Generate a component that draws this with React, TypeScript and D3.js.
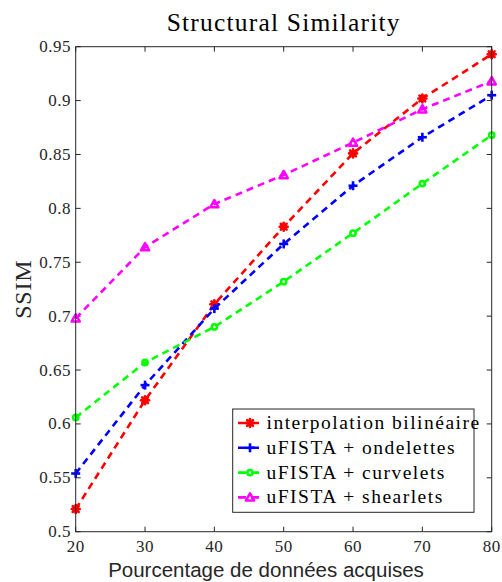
import React from "react";
import * as d3 from "d3";

const xValues = [20, 30, 40, 50, 60, 70, 80];
const interpolation = [0.521, 0.622, 0.711, 0.783, 0.851, 0.902, 0.943];
const ondelettes = [0.554, 0.636, 0.707, 0.767, 0.821, 0.866, 0.905];
const curvelets = [0.606, 0.657, 0.69, 0.732, 0.777, 0.823, 0.868];
const shearlets = [0.698, 0.764, 0.804, 0.831, 0.861, 0.892, 0.918];
const seriesNames = [
  "interpolation bilinéaire",
  "uFISTA + ondelettes",
  "uFISTA + curvelets",
  "uFISTA + shearlets",
];
const xTicks = [20, 30, 40, 50, 60, 70, 80];
const yTicks = [0.5, 0.55, 0.6, 0.65, 0.7, 0.75, 0.8, 0.85, 0.9, 0.95];

const W = 502;
const H = 582;
const L = 75.7, R = 491.7, T = 46.7, B = 531.7;
const AX = "#262626";
const SERIF = "'Liberation Serif', 'Times New Roman', serif";
const SANS = "'Liberation Sans', Arial, sans-serif";

type Kind = "star" | "plus" | "circle" | "tri";
const series: { name: string; values: number[]; color: string; kind: Kind }[] = [
  { name: seriesNames[0], values: interpolation, color: "#ff0000", kind: "star" },
  { name: seriesNames[1], values: ondelettes, color: "#0000ff", kind: "plus" },
  { name: seriesNames[2], values: curvelets, color: "#00ff00", kind: "circle" },
  { name: seriesNames[3], values: shearlets, color: "#ff00ff", kind: "tri" },
];

function Marker({ kind, x, y, color }: { kind: Kind; x: number; y: number; color: string }) {
  if (kind === "star") {
    const s = 4;
    const d = 2.9;
    return (
      <g stroke={color} strokeWidth={2.6} strokeLinecap="round">
        <circle cx={x} cy={y} r={3.6} fill={color} stroke="none" />
        <line x1={x - s} y1={y} x2={x + s} y2={y} />
        <line x1={x} y1={y - s} x2={x} y2={y + s} />
        <line x1={x - d} y1={y - d} x2={x + d} y2={y + d} />
        <line x1={x - d} y1={y + d} x2={x + d} y2={y - d} />
      </g>
    );
  }
  if (kind === "plus") {
    const s = 4.5;
    return (
      <g stroke={color} strokeWidth={2.6}>
        <line x1={x - s} y1={y} x2={x + s} y2={y} />
        <line x1={x} y1={y - s} x2={x} y2={y + s} />
      </g>
    );
  }
  if (kind === "circle") {
    return <circle cx={x} cy={y} r={2.6} fill="none" stroke={color} strokeWidth={2.6} />;
  }
  const h = 3.6;
  return (
    <path
      d={`M${x},${y - h - 0.4} L${x + 4.1},${y + h - 0.4} L${x - 4.1},${y + h - 0.4} Z`}
      fill="none"
      stroke={color}
      strokeWidth={2.5}
      strokeLinejoin="round"
    />
  );
}

export default function App() {
  const x = d3.scaleLinear().domain([20, 80]).range([L, R]);
  const y = d3.scaleLinear().domain([0.5, 0.95]).range([B, T]);
  const line = d3
    .line<number>()
    .x((_, i) => x(xValues[i]))
    .y((v) => y(v));

  const legX = 232.7, legY = 409, legW = 241.3, legH = 103.3;
  const rowY0 = 423, rowDy = 24.8;

  return (
    <svg width={W} height={H} style={{ position: "absolute", left: 0, top: 0, background: "#fff" }}>
      <rect x={0} y={0} width={W} height={H} fill="#fff" />
      {/* title */}
      <text
        x={(L + R) / 2}
        y={30.5}
        textAnchor="middle"
        fontFamily={SERIF}
        fontSize={25.5}
        letterSpacing={1.2}
        fill="#000"
      >
        Structural Similarity
      </text>
      {/* ticks */}
      {xTicks.map((t) => (
        <g key={"xt" + t} stroke={AX} strokeWidth={1}>
          <line x1={x(t)} y1={B} x2={x(t)} y2={B - 5} />
          <line x1={x(t)} y1={T} x2={x(t)} y2={T + 5} />
        </g>
      ))}
      {yTicks.map((t) => (
        <g key={"yt" + t} stroke={AX} strokeWidth={1}>
          <line x1={L} y1={y(t)} x2={L + 5} y2={y(t)} />
          <line x1={R} y1={y(t)} x2={R - 5} y2={y(t)} />
        </g>
      ))}
      {xTicks.map((t) => (
        <text
          key={"xl" + t}
          x={x(t)}
          y={552}
          textAnchor="middle"
          fontFamily={SERIF}
          fontSize={17}
          letterSpacing={0.5}
          fill={AX}
        >
          {t}
        </text>
      ))}
      {yTicks.map((t) => (
        <text
          key={"yl" + t}
          x={71}
          y={y(t) + 5.5}
          textAnchor="end"
          fontFamily={SERIF}
          fontSize={17}
          letterSpacing={0.5}
          fill={AX}
        >
          {d3.format("")(t)}
        </text>
      ))}
      {/* axis labels */}
      <text x={266} y={577} textAnchor="middle" fontFamily={SANS} fontSize={20.5} fill={AX}>
        Pourcentage de données acquises
      </text>
      <text
        transform={`translate(31,${(T + B) / 2}) rotate(-90)`}
        textAnchor="middle"
        fontFamily={SERIF}
        fontSize={24}
        letterSpacing={0.8}
        fill={AX}
      >
        SSIM
      </text>
      {/* series */}
      {series.map((s) => (
        <g key={s.name}>
          <path
            d={line(s.values) || ""}
            fill="none"
            stroke={s.color}
            strokeWidth={2.6}
            strokeDasharray="7,5"
          />
          {s.values.map((v, i) => (
            <Marker key={i} kind={s.kind} x={x(xValues[i])} y={y(v)} color={s.color} />
          ))}
        </g>
      ))}
      {/* box */}
      <rect x={L} y={T} width={R - L} height={B - T} fill="none" stroke={AX} strokeWidth={1} />
      {/* legend */}
      <rect x={legX} y={legY} width={legW} height={legH} fill="#fff" stroke={AX} strokeWidth={1} />
      {series.map((s, i) => {
        const cy = rowY0 + i * rowDy;
        return (
          <g key={"lg" + i}>
            <line x1={238} y1={cy} x2={264} y2={cy} stroke={s.color} strokeWidth={2.6} strokeDasharray="8,5" />
            <Marker kind={s.kind} x={250} y={cy} color={s.color} />
            <text x={266.5} y={cy + 6} fontFamily={SERIF} fontSize={19.5} letterSpacing={1.5} fill="#000">
              {s.name}
            </text>
          </g>
        );
      })}
    </svg>
  );
}
